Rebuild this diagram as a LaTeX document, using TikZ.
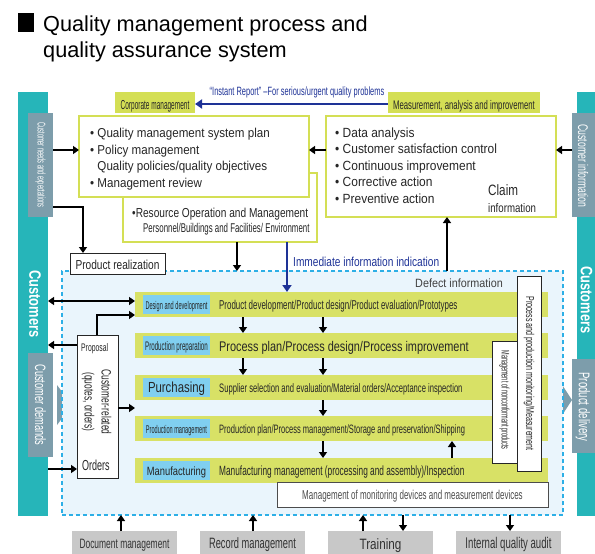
\documentclass[tikz,border=0pt]{standalone}
\usepackage{fontspec}
\setmainfont{Liberation Sans}
\newfontfamily\semifont[FakeStretch=0.9]{Liberation Sans}
\newfontfamily\condfont[FakeStretch=0.78]{Liberation Sans}
\newfontfamily\narrowfont[FakeStretch=0.62]{Liberation Sans}
\newfontfamily\xnarrowfont[FakeStretch=0.5]{Liberation Sans}
\newcommand\txtsize[1]{\fontsize{#1}{#1}\selectfont}
\usetikzlibrary{arrows.meta}

\definecolor{custteal}{RGB}{38,181,185}
\definecolor{sidegrey}{RGB}{125,157,171}
\definecolor{rowgreen}{RGB}{216,225,102}
\definecolor{labelblue}{RGB}{128,207,240}
\definecolor{realmfill}{RGB}{234,245,252}
\definecolor{realmline}{RGB}{45,175,230}
\definecolor{reportblue}{RGB}{30,50,150}
\definecolor{footgrey}{RGB}{200,200,200}
\definecolor{boxline}{RGB}{212,223,85}

\tikzset{
  box/.style={anchor=north west, inner sep=0pt, outer sep=0pt},
  ybox/.style={box, draw=boxline, line width=2pt, fill=white},
  wbox/.style={box, draw=black!85, line width=0.9pt, fill=white},
  sidebox/.style={box, fill=sidegrey},
  tab/.style={box, fill=boxline, minimum height=21pt},
  row/.style={box, fill=rowgreen, minimum width=413pt, minimum height=25pt},
  rowlabel/.style={box, fill=labelblue, minimum width=67pt, minimum height=19pt},
  footbox/.style={box, fill=footgrey, minimum width=105pt, minimum height=23pt},
  txt/.style={inner sep=0pt, anchor=base west, text=black!85},
  vtxt/.style={inner sep=0pt, rotate=-90, text=white},
  arr/.style={-{Triangle[length=6pt,width=8pt]}, line width=1.4pt},
  bluearr/.style={-{Triangle[length=7pt,width=9pt]}, line width=1.8pt, draw=reportblue},
}

\begin{document}
\begin{tikzpicture}[x=1pt,y=-1pt]
  \useasboundingbox (0,0) rectangle (595,554);
  \clip (0,0) rectangle (595,554);

  % Title
  \fill[black] (18,13) rectangle (34,32);
  \node[txt, text=black, font=\txtsize{21.7}] (title1) at (43,31) {Quality management process and};
  \node[txt, text=black, font=\txtsize{21.7}] (title2) at (43,57) {quality assurance system};

  % Customers on both sides
  \node[box, fill=custteal, minimum width=30pt, minimum height=424pt] (leftbar) at (18,92) {};
  \node[box, fill=custteal, minimum width=25pt, minimum height=424pt] (rightbar) at (577,92) {};
  \node[vtxt, font=\condfont\bfseries\txtsize{16.5}] (custL) at (35,304) {Customers};
  \node[vtxt, font=\condfont\bfseries\txtsize{16.5}] (custR) at (586.5,300) {Customers};

  \node[sidebox, minimum width=25pt, minimum height=104pt] (needs) at (28,113) {};
  \node[vtxt, font=\xnarrowfont\txtsize{11.2}] (needstxt) at (needs.center) {Customer needs and expectations};
  \node[sidebox, minimum width=25pt, minimum height=104pt] (demands) at (28,353) {};
  \node[vtxt, font=\narrowfont\txtsize{15}] (demandstxt) at (40.5,405) {Customer demands};
  \fill[sidegrey] (57,385) -- (72,405) -- (57,425) -- cycle;

  \node[sidebox, minimum width=30pt, minimum height=104pt] (custinfo) at (572,113) {};
  \node[vtxt, font=\narrowfont\txtsize{14}] (custinfotxt) at (583,166) {Customer information};
  \node[sidebox, minimum width=30pt, minimum height=94pt] (delivery) at (572,359) {};
  \node[vtxt, font=\narrowfont\txtsize{15.5}] (deliverytxt) at (583,407) {Product delivery};
  \fill[sidegrey] (557,377) -- (572,400) -- (557,423) -- cycle;

  % Corporate management
  \node[tab, minimum width=80pt] (corptab) at (115,92) {};
  \node[txt, anchor=base, font=\xnarrowfont\txtsize{13}] (corptabtxt) at (155,109.5) {Corporate management};
  \node[ybox, minimum width=194pt, minimum height=69pt] (resource) at (123,173) {};
  \node[ybox, minimum width=230pt, minimum height=81pt] (corp) at (79,116) {};
  \node[txt, anchor=north west, align=left, font=\semifont\fontsize{12.9}{16.5}\selectfont] (corptxt) at (90,128)
    {\textbullet\ Quality management system plan\\
     \textbullet\ Policy management\\
     \phantom{\textbullet\ }Quality policies/quality objectives\\
     \textbullet\ Management review};
  \node[txt, font=\condfont\txtsize{13}] (restxt1) at (132,217) {\textbullet Resource Operation and Management};
  \node[txt, font=\narrowfont\txtsize{12.7}] (restxt2) at (143,232) {Personnel/Buildings and Facilities/ Environment};

  % Measurement, analysis and improvement
  \node[tab, minimum width=152pt] (meastab) at (388,92) {};
  \node[txt, anchor=base, font=\narrowfont\txtsize{12.5}] (meastabtxt) at (464,109.5) {Measurement, analysis and improvement};
  \node[ybox, minimum width=230pt, minimum height=101pt] (meas) at (326,116) {};
  \node[txt, anchor=north west, align=left, font=\semifont\fontsize{13.3}{16.5}\selectfont] (meastxt) at (335,127.5)
    {\textbullet\ Data analysis\\
     \textbullet\ Customer satisfaction control\\
     \textbullet\ Continuous improvement\\
     \textbullet\ Corrective action\\
     \textbullet\ Preventive action};
  \node[txt, font=\condfont\txtsize{15}] (claim1) at (488,195) {Claim};
  \node[txt, font=\condfont\txtsize{12.4}] (claim2) at (488,212) {information};

  % Instant report
  \node[txt, anchor=base, text=reportblue, font=\narrowfont\txtsize{12}] (reporttxt) at (297,95) {“Instant Report” –For serious/urgent quality problems};
  \draw[bluearr] (meastab.west |- 0,104) -- (corptab.east |- 0,104);

  % Product realization area
  \node[box, draw=realmline, fill=realmfill, line width=1.2pt, dash pattern=on 4pt off 3pt,
        minimum width=501pt, minimum height=244pt] (realm) at (62,271) {};
  \node[wbox, minimum width=95pt, minimum height=21pt] (prodreal) at (70,253) {};
  \node[txt, anchor=base, font=\condfont\txtsize{13}] (prodrealtxt) at (117.5,269.5) {Product realization};
  \node[txt, text=reportblue, font=\condfont\txtsize{13}] (immtxt) at (293,266) {Immediate information indication};
  \node[txt, text=black!75, font=\semifont\txtsize{12}] (defecttxt) at (415,287.5) {Defect information};

  \node[row] (rdesign) at (135,292) {};
  \node[row] (rprep) at (135,333) {};
  \node[row] (rpurch) at (135,375) {};
  \node[row] (rpmgmt) at (135,416) {};
  \node[row] (rmanuf) at (135,458) {};
  \node[rowlabel] (ldesign) at (143,295) {};
  \node[rowlabel] (lprep) at (143,336) {};
  \node[rowlabel] (lpurch) at (143,378) {};
  \node[rowlabel] (lpmgmt) at (143,419) {};
  \node[rowlabel] (lmanuf) at (143,461) {};

  \node[txt, anchor=base, font=\xnarrowfont\txtsize{11.2}] (tldesign) at (176.5,309.5) {Design and development};
  \node[txt, anchor=base, font=\xnarrowfont\txtsize{12.4}] (tlprep) at (176.5,350.5) {Production preparation};
  \node[txt, anchor=base, font=\condfont\txtsize{14.6}] (tlpurch) at (176.5,392.5) {Purchasing};
  \node[txt, anchor=base, font=\xnarrowfont\txtsize{11.2}] (tlpmgmt) at (176.5,433.5) {Production management};
  \node[txt, anchor=base, font=\condfont\txtsize{12}] (tlmanuf) at (176.5,475.5) {Manufacturing};

  \node[txt, font=\narrowfont\txtsize{12.8}] (trdesign) at (219,309.5) {Product development/Product design/Product evaluation/Prototypes};
  \node[txt, font=\condfont\txtsize{14}] (trprep) at (219,351) {Process plan/Process design/Process improvement};
  \node[txt, font=\narrowfont\txtsize{12.3}] (trpurch) at (219,392.5) {Supplier selection and evaluation/Material orders/Acceptance inspection};
  \node[txt, font=\narrowfont\txtsize{12.15}] (trpmgmt) at (219,433.5) {Production plan/Process management/Storage and preservation/Shipping};
  \node[txt, font=\narrowfont\txtsize{13.4}] (trmanuf) at (219,475.5) {Manufacturing management (processing and assembly)/Inspection};

  % Monitoring boxes
  \node[wbox, minimum width=25pt, minimum height=122pt] (noncon) at (492,341) {};
  \node[vtxt, text=black!85, font=\xnarrowfont\txtsize{11}] (noncontxt) at (504.5,400) {Management of nonconformant products};
  \node[wbox, minimum width=24pt, minimum height=195pt] (monitor) at (517,276) {};
  \node[vtxt, text=black!85, font=\narrowfont\txtsize{11.4}] (monitortxt) at (monitor.center) {Process and production monitoring/Measurement};
  \node[wbox, draw=black!70, minimum width=271pt, minimum height=25pt] (devices) at (277,482) {};
  \node[txt, anchor=base, text=black!70, font=\narrowfont\txtsize{12.9}] (devicestxt) at (412.5,499) {Management of monitoring devices and measurement devices};

  % Customer-related processes
  \node[wbox, minimum width=41pt, minimum height=143pt] (custrel) at (77,335) {};
  \node[txt, font=\narrowfont\txtsize{11}] (proposal) at (81,351) {Proposal};
  \node[txt, font=\narrowfont\txtsize{14.5}] (orders) at (82,470) {Orders};
  \node[vtxt, text=black!85, align=center, font=\narrowfont\fontsize{13.5}{17}\selectfont] (custreltxt) at (96.5,402) {Customer-related\\(quotes, orders)};

  % Bottom support processes
  \node[footbox] (docmgmt) at (72,531) {};
  \node[footbox] (recmgmt) at (200,531) {};
  \node[footbox] (training) at (328,531) {};
  \node[footbox] (audit) at (456,531) {};
  \node[txt, anchor=base, text=black!80, font=\narrowfont\txtsize{13.6}] (docmgmttxt) at (docmgmt.center |- 0,548) {Document management};
  \node[txt, anchor=base, text=black!80, font=\narrowfont\txtsize{15}] (recmgmttxt) at (recmgmt.center |- 0,548) {Record management};
  \node[txt, anchor=base, text=black!80, font=\condfont\txtsize{15}] (trainingtxt) at (training.center |- 0,549) {Training};
  \node[txt, anchor=base, text=black!80, font=\narrowfont\txtsize{15.5}] (audittxt) at (audit.center |- 0,548) {Internal quality audit};

  % Arrows at the top
  \draw[arr] (needs.east |- 0,150) -- (corp.west |- 0,150);
  \draw[arr] (needs.east |- 0,207) -| (83,0 |- prodreal.north);
  \draw[arr] (meas.west |- 0,150) -- (corp.east |- 0,150);
  \draw[arr] (custinfo.west |- 0,150) -- (meas.east |- 0,150);
  \draw[arr] (237,0 |- resource.south) -- (237,0 |- realm.north);
  \draw[bluearr] (287,0 |- resource.south) -- (287,0 |- rdesign.north);
  \draw[arr] (447,0 |- realm.north) -- (447,0 |- meas.south);

  % Arrows on the left
  \draw[arr, {Triangle[length=6pt,width=8pt]}-{Triangle[length=6pt,width=8pt]}] (leftbar.east |- 0,301) -- (rdesign.west |- 0,301);
  \draw[arr] (97,0 |- custrel.north) |- (rdesign.west |- 0,315);
  \draw[arr] (custrel.west |- 0,345) -- (leftbar.east |- 0,345);
  \draw[arr] (custrel.east |- 0,408) -- (rpurch.west |- 0,408);
  \draw[arr] (leftbar.east |- 0,469) -- (custrel.west |- 0,469);

  % Arrows between the rows
  \draw[arr] (243,0 |- rdesign.south) -- (243,0 |- rprep.north);
  \draw[arr] (323,0 |- rdesign.south) -- (323,0 |- rprep.north);
  \draw[arr] (243,0 |- rprep.south) -- (243,0 |- rpurch.north);
  \draw[arr] (323,0 |- rprep.south) -- (323,0 |- rpurch.north);
  \draw[arr] (323,0 |- rpurch.south) -- (323,0 |- rpmgmt.north);
  \draw[arr] (323,0 |- rpmgmt.south) -- (323,0 |- rmanuf.north);
  \draw[arr] (452,0 |- rmanuf.north) -- (452,0 |- rpmgmt.south);

  % Arrows at the bottom
  \draw[arr] (121,0 |- docmgmt.north) -- (121,0 |- realm.south);
  \draw[arr] (253,0 |- recmgmt.north) -- (253,0 |- realm.south);
  \draw[arr] (363,0 |- training.north) -- (363,0 |- realm.south);
  \draw[arr] (403,0 |- realm.south) -- (403,0 |- training.north);
  \draw[arr] (510,0 |- realm.south) -- (510,0 |- audit.north);
\end{tikzpicture}
\end{document}
